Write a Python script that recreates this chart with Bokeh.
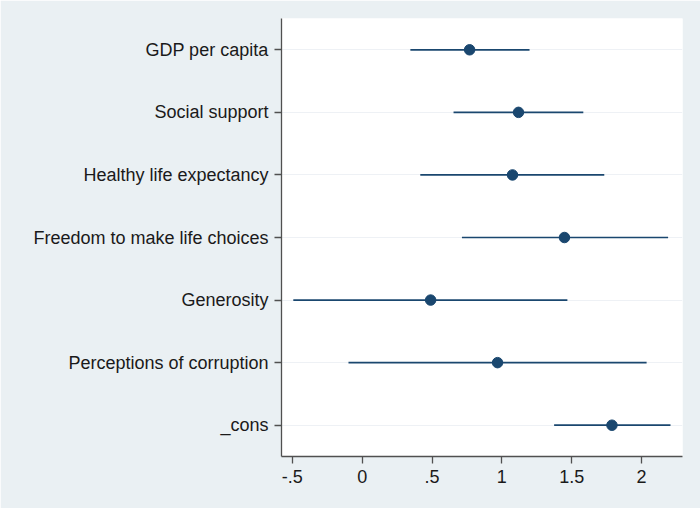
from bokeh.plotting import figure
from bokeh.models import ColumnDataSource, FactorRange, Range1d, FixedTicker
from bokeh.embed import file_html
from bokeh.resources import INLINE

# Coefficient estimates with 95% confidence intervals
variables = ["GDP per capita", "Social support", "Healthy life expectancy",
             "Freedom to make life choices", "Generosity",
             "Perceptions of corruption", "_cons"]
coef = [0.769, 1.119, 1.076, 1.448, 0.490, 0.969, 1.788]
ci_low = [0.345, 0.654, 0.416, 0.714, -0.493, -0.098, 1.374]
ci_high = [1.198, 1.583, 1.733, 2.190, 1.469, 2.036, 2.207]

x_ticks = [-0.5, 0, 0.5, 1, 1.5, 2]
x_tick_labels = {-0.5: "-.5", 0: "0", 0.5: ".5", 1: "1", 1.5: "1.5", 2: "2"}

BG = "#EAF0F3"
NAVY = "#1A476F"
FONT = "Liberation Sans"

src = ColumnDataSource(dict(var=variables, coef=coef, lo=ci_low, hi=ci_high))

p = figure(
    width=700, height=508,
    y_range=FactorRange(factors=list(reversed(variables))),
    x_range=Range1d(-0.5775, 2.293),
    output_backend="svg", toolbar_location=None,
    min_border_left=281, min_border_right=18,
    min_border_top=18, min_border_bottom=52,
)
p.background_fill_color = "white"
p.border_fill_color = BG
p.outline_line_color = None

# Confidence intervals and point estimates
p.segment(x0="lo", x1="hi", y0="var", y1="var", source=src,
          line_color=NAVY, line_width=1.7)
p.scatter(x="coef", y="var", source=src, size=10.5,
          fill_color=NAVY, line_color=NAVY)

# Grid: faint horizontal lines only
p.xgrid.grid_line_color = None
p.ygrid.grid_line_color = "#EEF1F5"
p.ygrid.grid_line_width = 1

# Axes
for ax in (p.xaxis[0], p.yaxis[0]):
    ax.axis_line_color = "#505050"
    ax.axis_line_width = 1.3
    ax.major_tick_line_color = "#505050"
    ax.major_tick_line_width = 1.3
    ax.major_tick_in = 0
    ax.minor_tick_line_color = None
    ax.major_label_text_font = FONT
    ax.major_label_text_font_size = "18px"
    ax.major_label_text_color = "#1a1a1a"

p.xaxis.ticker = FixedTicker(ticks=x_ticks)
p.xaxis.major_label_overrides = x_tick_labels
p.xaxis.major_tick_out = 7
p.xaxis.major_label_standoff = 6

p.yaxis.major_tick_out = 7
p.yaxis.major_label_standoff = 6

open("out.html", "w").write(file_html(p, INLINE))
